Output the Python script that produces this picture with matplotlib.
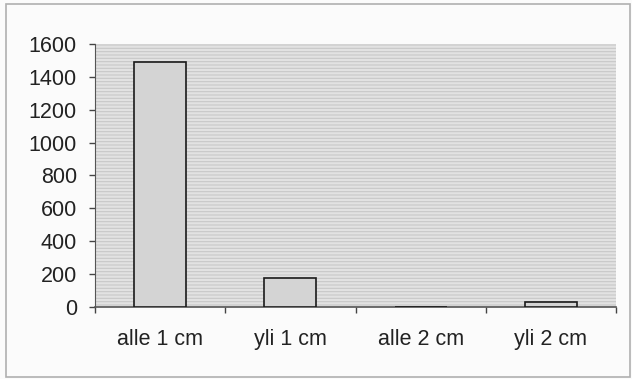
import matplotlib
matplotlib.use("Agg")
import matplotlib.pyplot as plt
from matplotlib.patches import Rectangle

categories = ["alle 1 cm", "yli 1 cm", "alle 2 cm", "yli 2 cm"]
values = [1490, 175, 0, 30]
yticks = [0, 200, 400, 600, 800, 1000, 1200, 1400, 1600]

plt.rcParams['font.family'] = ['Liberation Sans', 'DejaVu Sans']
plt.rcParams['hatch.linewidth'] = 0.8

fig = plt.figure(figsize=(6.32, 3.79), dpi=100)
fig.patch.set_facecolor('#fbfbfb')
ax = fig.add_axes([0.1503, 0.19, 0.8244, 0.694])
ax.set_facecolor('#e2e2e2')
ax.add_patch(Rectangle((0, 0), 1, 1, transform=ax.transAxes, facecolor='none',
                       edgecolor='#c8c8c8', hatch='-----', linewidth=0, zorder=0))

x = list(range(len(categories)))
ax.bar(x, values, width=0.4, color='#d4d4d4', edgecolor='#1a1a1a', linewidth=1.2, zorder=3)

ax.set_xlim(-0.5, len(categories) - 0.5)
ax.set_ylim(0, 1600)
ax.set_yticks(yticks)
ax.set_yticklabels([str(v) for v in yticks], fontsize=15.5, color='#222222')
ax.set_xticks(x)
ax.set_xticklabels(categories, fontsize=15.5, color='#222222')
ax.tick_params(axis='x', length=0, pad=16)
ax.set_xticks([i - 0.5 for i in range(len(categories) + 1)], minor=True)
ax.tick_params(axis='x', which='minor', length=4, color='#444444', width=1)
ax.tick_params(axis='y', length=4, pad=9, color='#444444', width=1)

for s in ['top', 'right']:
    ax.spines[s].set_visible(False)
ax.spines['left'].set_color('#555555')
ax.spines['bottom'].set_color('#555555')
ax.spines['bottom'].set_linewidth(1.2)

fig.patches.append(Rectangle((6/632, 2/379), 624/632, 373/379, transform=fig.transFigure,
                             fill=False, edgecolor='#b0b0b0', linewidth=1.2))

fig.savefig("out.png", dpi=100, facecolor=fig.get_facecolor())
